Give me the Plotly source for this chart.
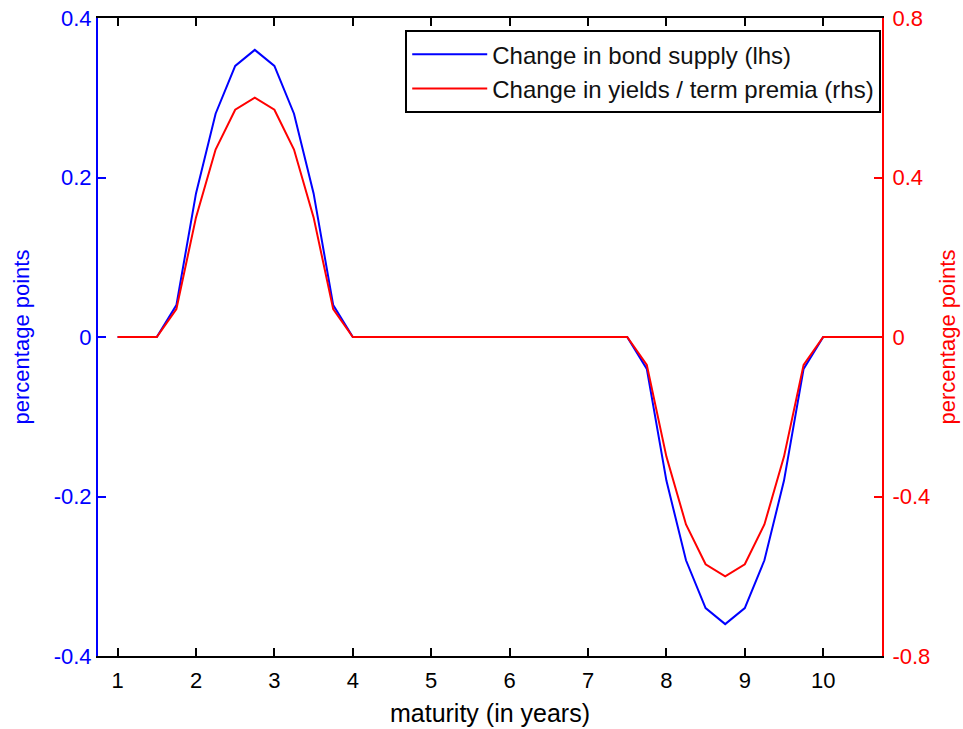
import plotly.graph_objects as go

maturity = [1.0, 1.25, 1.5, 1.75, 2.0, 2.25, 2.5, 2.75, 3.0, 3.25, 3.5, 3.75, 4.0,
            4.25, 4.5, 4.75, 5.0, 5.25, 5.5, 5.75, 6.0, 6.25, 6.5, 6.75, 7.0, 7.25, 7.5,
            7.75, 8.0, 8.25, 8.5, 8.75, 9.0, 9.25, 9.5, 9.75, 10.0, 10.25, 10.5, 10.75]
bond_supply = [0, 0, 0, 0.04, 0.18, 0.28, 0.34, 0.36, 0.34, 0.28, 0.18, 0.04, 0,
               0, 0, 0, 0, 0, 0, 0, 0, 0, 0, 0, 0, 0, 0,
               -0.04, -0.18, -0.28, -0.34, -0.36, -0.34, -0.28, -0.18, -0.04, 0, 0, 0, 0]
yields = [0, 0, 0, 0.07, 0.30, 0.47, 0.57, 0.60, 0.57, 0.47, 0.30, 0.07, 0,
          0, 0, 0, 0, 0, 0, 0, 0, 0, 0, 0, 0, 0, 0,
          -0.07, -0.30, -0.47, -0.57, -0.60, -0.57, -0.47, -0.30, -0.07, 0, 0, 0, 0]

x_ticks = [1, 2, 3, 4, 5, 6, 7, 8, 9, 10]
lhs_ticks = [-0.4, -0.2, 0, 0.2, 0.4]
lhs_labels = ["-0.4", "-0.2", "0", "0.2", "0.4"]
rhs_ticks = [-0.8, -0.4, 0, 0.4, 0.8]
rhs_labels = ["-0.8", "-0.4", "0", "0.4", "0.8"]

FONT = "Liberation Sans, Arial, sans-serif"

fig = go.Figure()
fig.add_trace(go.Scatter(x=maturity, y=bond_supply, mode="lines",
                         line=dict(color="#0000ff", width=2),
                         name="Change in bond supply (lhs)", yaxis="y"))
fig.add_trace(go.Scatter(x=maturity, y=yields, mode="lines",
                         line=dict(color="#ff0000", width=2),
                         name="Change in yields / term premia (rhs)", yaxis="y2"))

fig.update_layout(
    width=963, height=729,
    margin=dict(l=98, r=81, t=18, b=73),
    paper_bgcolor="white", plot_bgcolor="white",
    font=dict(family=FONT, size=22, color="black"),
    showlegend=True,
    legend=dict(x=0.999, y=0.981, xanchor="right", yanchor="top",
                bgcolor="white", bordercolor="black", borderwidth=2,
                font=dict(size=24, color="#111111"), tracegroupgap=0,
                itemwidth=75),
    xaxis=dict(range=[0.75, 10.75], tickvals=x_ticks, ticktext=[str(v) for v in x_ticks],
               showline=True, linecolor="black", linewidth=2, mirror="ticks",
               ticks="inside", ticklen=8, tickcolor="black", tickwidth=1.5,
               showgrid=False, zeroline=False, automargin=False,
               ticklabelstandoff=4,
               tickfont=dict(size=22, color="black"),
               title=dict(text="maturity (in years)", font=dict(size=25, color="black"), standoff=12)),
    yaxis=dict(range=[-0.4, 0.4], tickvals=lhs_ticks, ticktext=lhs_labels,
               showline=True, linecolor="#0000ff", linewidth=2,
               ticks="inside", ticklen=8, tickcolor="#0000ff", tickwidth=1.5,
               showgrid=False, zeroline=False, automargin=False,
               ticklabeloverflow="allow",
               tickfont=dict(size=22, color="#0000ff"),
               title=dict(text="percentage points", font=dict(size=22, color="#0000ff"), standoff=18)),
    yaxis2=dict(range=[-0.8, 0.8], tickvals=rhs_ticks, ticktext=rhs_labels,
                overlaying="y", side="right",
                showline=True, linecolor="#ff0000", linewidth=2,
                ticks="inside", ticklen=8, tickcolor="#ff0000", tickwidth=1.5,
                showgrid=False, zeroline=False, automargin=False,
                ticklabelstandoff=4, ticklabeloverflow="allow",
                tickfont=dict(size=22, color="#ff0000"),
                title=dict(text="percentage points", font=dict(size=22, color="#ff0000"), standoff=10)),
)

# remove the browser's default 8px page margin so the figure fills the window exactly
fig.write_html("out.html", config={"displayModeBar": False},
               post_script="document.body.style.margin='0';")
